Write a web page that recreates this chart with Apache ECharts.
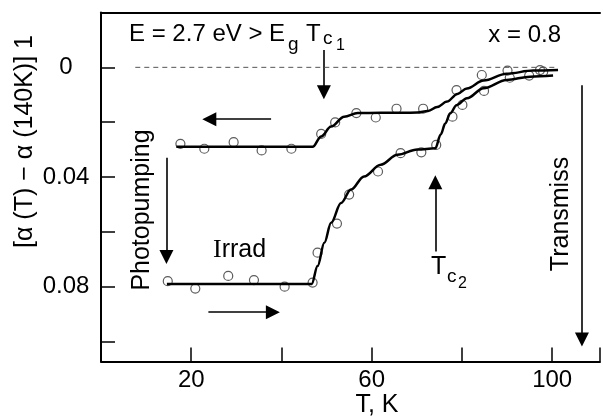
<!DOCTYPE html>
<html>
<head>
<meta charset="utf-8">
<script src="https://cdn.jsdelivr.net/npm/echarts@6/dist/echarts.min.js"></script>
<style>
  html, body { margin: 0; padding: 0; background: #fff; }
  #chart { width: 603px; height: 416px; }
</style>
</head>
<body>
<div id="chart"></div>
<script>
// fitted curves
var coolT = [16.7, 30, 46.9, 48.8, 51, 53.9, 56.9, 62, 67, 70.1, 72.5, 74.5, 76.7, 79, 81.1, 84.8, 89.9, 95.8, 101.3];
var coolV = [0.029, 0.029, 0.029, 0.0252, 0.0216, 0.018, 0.0167, 0.0166, 0.0166, 0.0165, 0.0159, 0.0145, 0.0125, 0.0097, 0.0077, 0.0048, 0.0023, 0.0012, 0.001];
var heatT = [14.6, 30, 46.7, 48, 49.5, 51, 53.2, 55.4, 58.3, 62, 65.7, 70.1, 74.1, 75.3, 76.3, 77.4, 78.8, 81.1, 84.8, 89.9, 95.1, 100.2];
var heatV = [0.079, 0.079, 0.079, 0.0725, 0.064, 0.0567, 0.0495, 0.0446, 0.0398, 0.0355, 0.0319, 0.03, 0.0295, 0.0245, 0.0205, 0.0168, 0.0138, 0.0113, 0.0076, 0.0046, 0.0034, 0.003];

// measured points (open circles)
var coolPtT = [17.6, 22.9, 29.4, 35.6, 42.2, 48.8, 51.9, 56.6, 60.9, 65.5, 71.4, 78.8, 84.4, 90.1, 97.3];
var coolPtV = [0.0279, 0.0297, 0.0273, 0.0303, 0.0297, 0.0243, 0.0201, 0.0167, 0.0183, 0.0151, 0.0151, 0.0083, 0.0028, 0.0012, 0.001];
var heatPtT = [14.8, 20.9, 28.2, 33.9, 40.7, 46.9, 48, 52.3, 55, 61.4, 66.4, 71, 74.3, 77.9, 80.1, 84.9, 90.6, 94.9, 98];
var heatPtV = [0.078, 0.0807, 0.0761, 0.0776, 0.08, 0.0785, 0.0676, 0.057, 0.0464, 0.038, 0.0313, 0.031, 0.0283, 0.018, 0.0137, 0.0086, 0.0038, 0.003, 0.0016];

// zero reference line
var zeroT = [7.6, 100.6];

// annotation arrows [[T1, v1], [T2, v2]]  (head at the second point)
var arrows = [
  [[49.4, -0.0063], [49.4, 0.0091]],   // Tc1
  [[37.7, 0.0189], [24.0, 0.0189]],    // cooling
  [[14.5, 0.033], [14.5, 0.0692]],     // photopumping
  [[23.8, 0.0893], [38.1, 0.0893]],    // heating
  [[74.1, 0.0672], [74.1, 0.0419]],    // Tc2
  [[106.6, 0.0065], [106.6, 0.0993]]   // transmission
];

function zip(a, b) {
  var out = [];
  for (var i = 0; i < a.length; i++) out.push([a[i], b[i]]);
  return out;
}

var font = 'Liberation Sans';
var chart = echarts.init(document.getElementById('chart'));

var tick = { inside: true, length: 14, lineStyle: { color: '#000', width: 1.5 } };
var axisLn = { show: true, onZero: false, lineStyle: { color: '#000', width: 2 } };

var option = {
  animation: false,
  backgroundColor: '#fff',
  grid: { left: 101, right: 0, top: 12.5, bottom: 54.5 },
  xAxis: [{
    type: 'value', min: 0, max: 110.6, interval: 20, position: 'bottom',
    axisLine: axisLn,
    splitLine: { show: false },
    axisTick: tick,
    axisLabel: {
      margin: 7, color: '#000', fontSize: 24, fontFamily: font,
      formatter: function (v) { return (v === 20 || v === 60 || v === 100) ? String(v) : ''; }
    }
  }, {
    type: 'value', min: 0, max: 110.6, position: 'top',
    axisLine: axisLn, axisTick: { show: false }, axisLabel: { show: false }, splitLine: { show: false }
  }],
  yAxis: {
    type: 'value', inverse: true, min: -0.02, max: 0.1073, interval: 0.02,
    axisLine: axisLn,
    splitLine: { show: false },
    axisTick: tick,
    axisLabel: {
      margin: 35, align: 'center', color: '#000', fontSize: 24, fontFamily: font,
      formatter: function (v) {
        if (Math.abs(v) < 1e-9) return '0';
        if (Math.abs(v - 0.04) < 1e-6) return '0.04';
        if (Math.abs(v - 0.08) < 1e-6) return '0.08';
        return '';
      }
    }
  },
  series: [
    {
      type: 'line', data: zip(zeroT, [0, 0]), symbol: 'none',
      lineStyle: { color: '#555', width: 1, type: [5, 4] }
    },
    {
      type: 'line', data: zip(coolT, coolV), symbol: 'none',
      smooth: 0.35, smoothMonotone: 'x',
      lineStyle: { color: '#000', width: 2.5 }
    },
    {
      type: 'line', data: zip(heatT, heatV), symbol: 'none',
      smooth: 0.35, smoothMonotone: 'x',
      lineStyle: { color: '#000', width: 2.5 }
    },
    {
      type: 'scatter', data: zip(coolPtT, coolPtV), symbol: 'circle', symbolSize: 9,
      itemStyle: { color: 'rgba(0,0,0,0)', borderColor: '#333', borderWidth: 1.2 }
    },
    {
      type: 'scatter', data: zip(heatPtT, heatPtV), symbol: 'circle', symbolSize: 9,
      itemStyle: { color: 'rgba(0,0,0,0)', borderColor: '#333', borderWidth: 1.2 }
    },
    {
      type: 'lines', coordinateSystem: 'cartesian2d',
      symbol: ['none', 'triangle'], symbolSize: [10, 14],
      lineStyle: { color: '#000', width: 1.6, opacity: 1 },
      data: arrows.map(function (a) { return { coords: a }; })
    }
  ],
  graphic: [
    { type: 'text', x: 129, y: 34, style: { text: 'E = 2.7 eV > E', font: '24px ' + font, fill: '#000', textVerticalAlign: 'middle' } },
    { type: 'text', x: 288, y: 45, style: { text: 'g', font: '19px ' + font, fill: '#000', textVerticalAlign: 'middle' } },
    { type: 'text', x: 306, y: 34, style: { text: 'T', font: '24px ' + font, fill: '#000', textVerticalAlign: 'middle' } },
    { type: 'text', x: 323, y: 39, style: { text: 'c', font: '19px ' + font, fill: '#000', textVerticalAlign: 'middle' } },
    { type: 'text', x: 336, y: 46, style: { text: '1', font: '16px ' + font, fill: '#000', textVerticalAlign: 'middle' } },
    { type: 'text', x: 561, y: 35, style: { text: 'x = 0.8', font: '24px ' + font, fill: '#000', textAlign: 'right', textVerticalAlign: 'middle' } },
    { type: 'text', x: 431, y: 267, style: { text: 'T', font: '25px ' + font, fill: '#000', textVerticalAlign: 'middle' } },
    { type: 'text', x: 447, y: 277, style: { text: 'c', font: '19px ' + font, fill: '#000', textVerticalAlign: 'middle' } },
    { type: 'text', x: 458, y: 284, style: { text: '2', font: '16px ' + font, fill: '#000', textVerticalAlign: 'middle' } },
    {
      type: 'text', x: 213, y: 250,
      style: {
        text: '{s|I}{n|rrad}', textVerticalAlign: 'middle', fill: '#000',
        rich: {
          s: { fontFamily: 'Liberation Serif', fontSize: 26, fill: '#000' },
          n: { fontFamily: font, fontSize: 25, fill: '#000' }
        }
      }
    },
    { type: 'text', x: 142.5, y: 210, rotation: Math.PI / 2, style: { text: 'Photopumping', font: '25px ' + font, fill: '#000', textAlign: 'center', textVerticalAlign: 'middle' } },
    { type: 'text', x: 561, y: 214, rotation: Math.PI / 2, style: { text: 'Transmiss', font: '25px ' + font, fill: '#000', textAlign: 'center', textVerticalAlign: 'middle' } },
    { type: 'text', x: 25, y: 141.5, rotation: Math.PI / 2, style: { text: '[α (T) − α (140K)] 1', font: '25px ' + font, fill: '#000', textAlign: 'center', textVerticalAlign: 'middle' } },
    { type: 'text', x: 377, y: 393, style: { text: 'T, K', font: '25px ' + font, fill: '#000', textAlign: 'center', textVerticalAlign: 'top' } }
  ]
};

chart.setOption(option);
</script>
</body>
</html>
